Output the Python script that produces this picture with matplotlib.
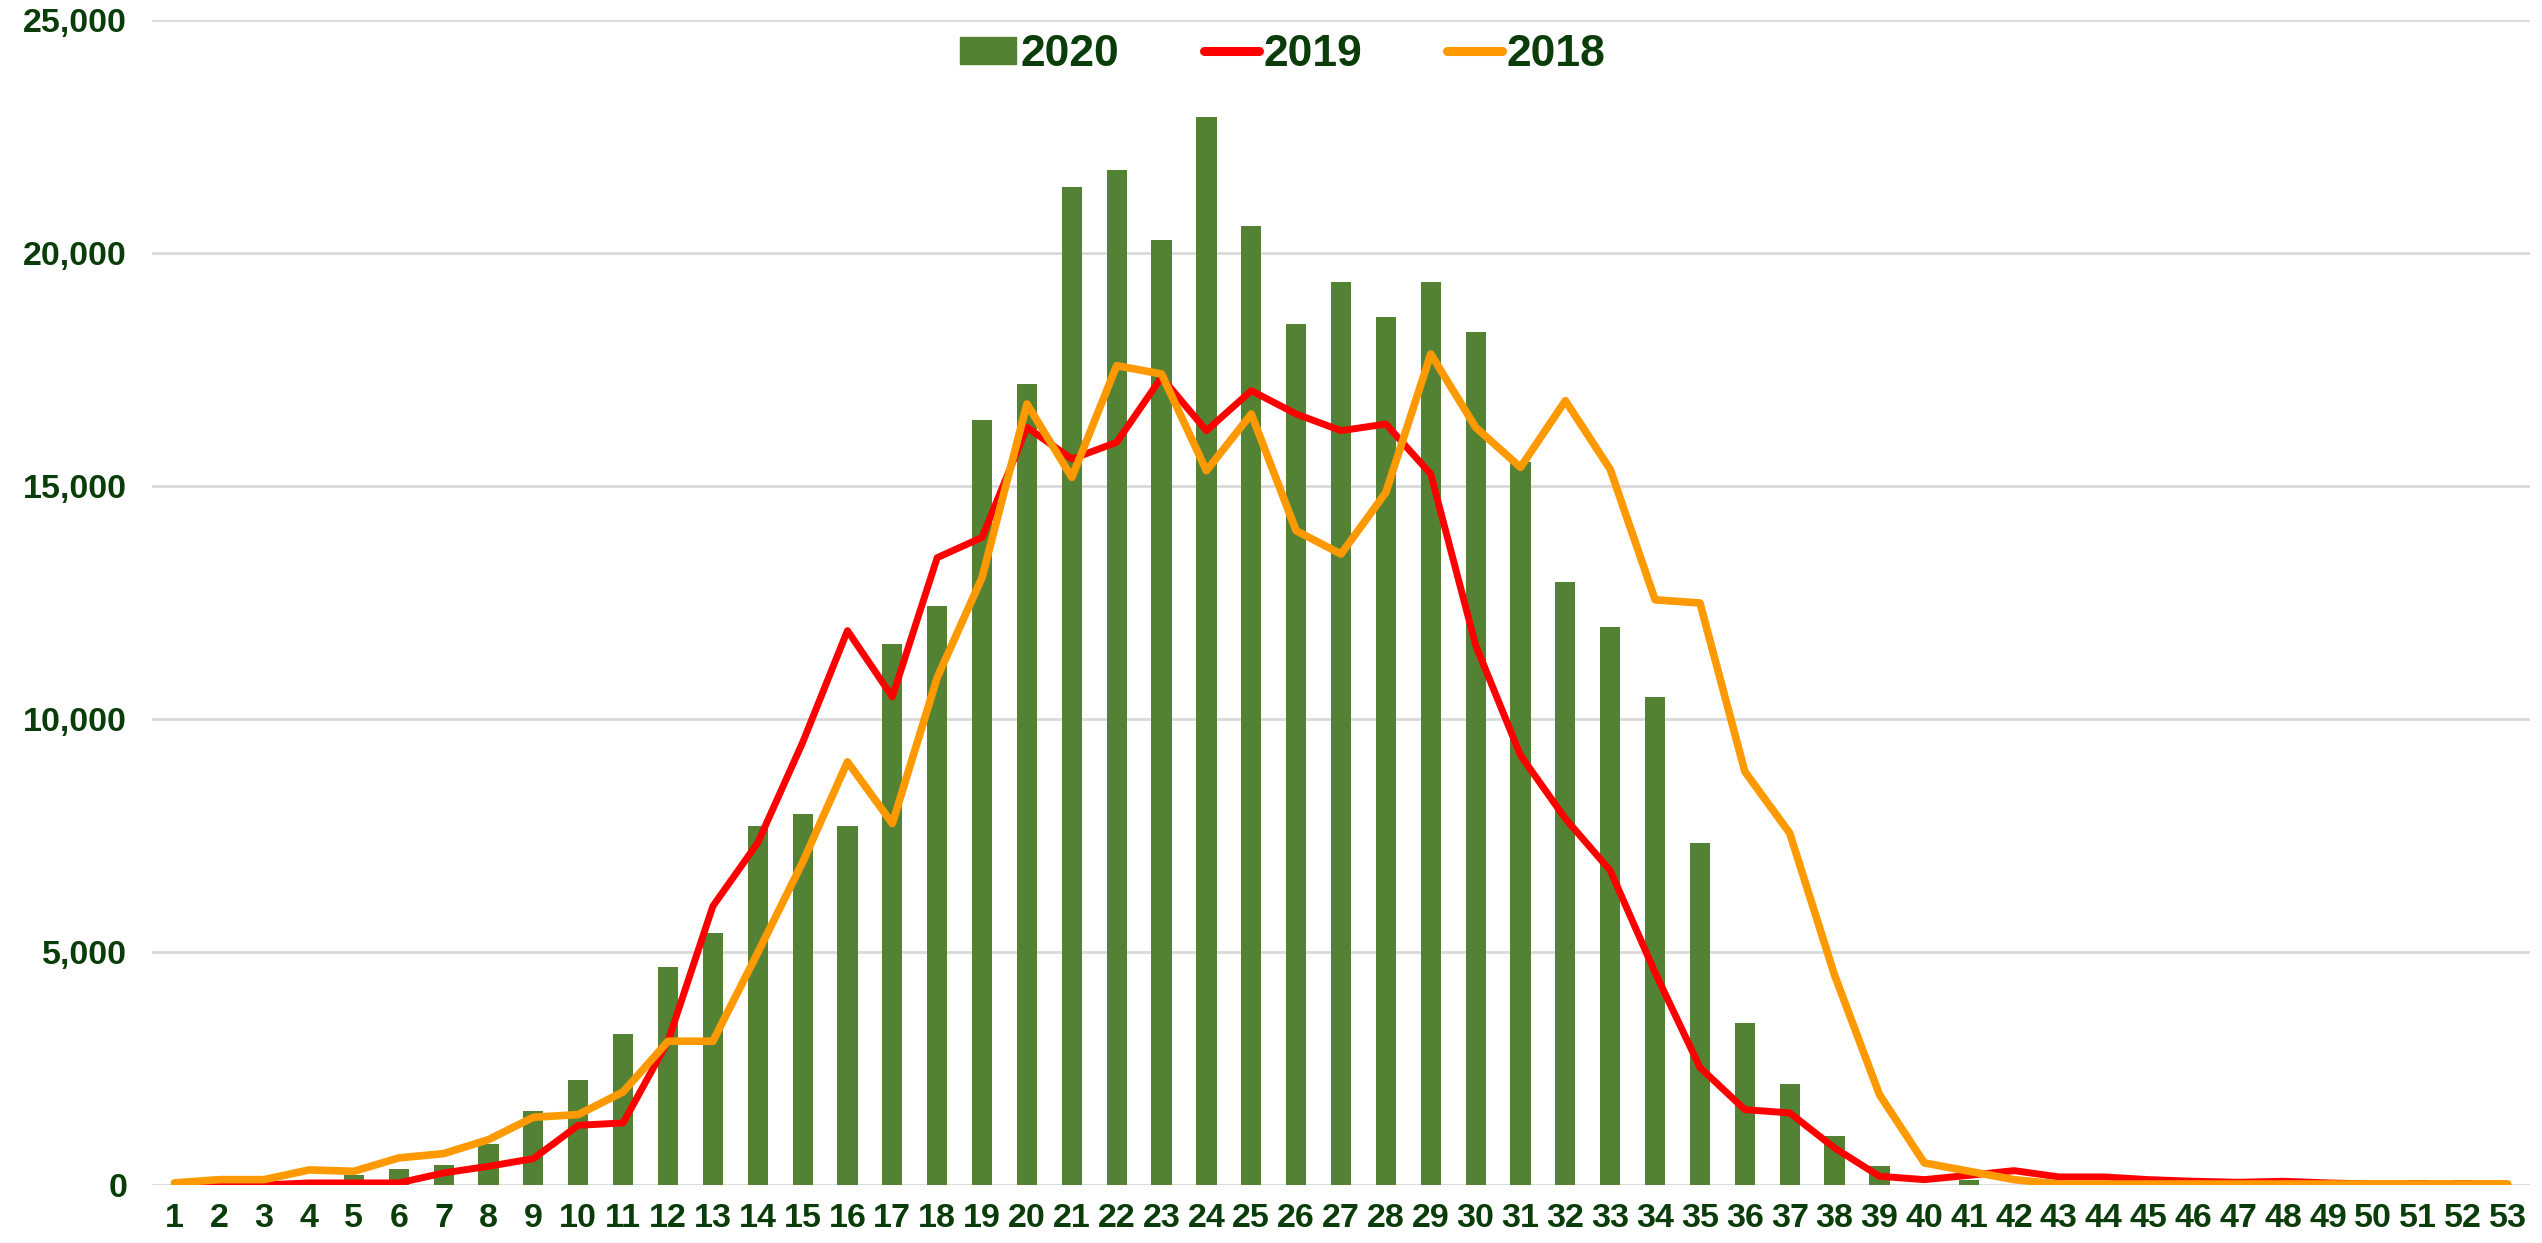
import matplotlib
matplotlib.use("Agg")
import matplotlib.pyplot as plt
from matplotlib.ticker import FuncFormatter, MultipleLocator
from matplotlib.lines import Line2D
from matplotlib.patches import Patch

weeks = list(range(1, 54))
y2020 = [0, 0, 0, 20, 207, 336, 429, 873, 1581, 2246,
         3240, 4671, 5401, 7710, 7960, 7690, 11610, 12410, 16416, 17182,
         21416, 21774, 20279, 22904, 20579, 18462, 19371, 18627, 19371, 18305,
         15500, 12925, 11960, 10460, 7330, 3470, 2165, 1050, 400, 0,
         114, 0, 0, 0, 0, 0, 0, 0, 60, 0,
         110, 110, 0]
y2019 = [0, 0, 0, 43, 43, 43, 258, 400, 565, 1280,
         1330, 3083, 5980, 7340, 9490, 11890, 10470, 13456, 13891, 16252,
         15572, 15930, 17325, 16180, 17039, 16538, 16180, 16323, 15250, 11580,
         9215, 7858, 6745, 4555, 2520, 1616, 1545, 794, 186, 114,
         207, 307, 172, 172, 114, 79, 57, 79, 43, 20,
         20, 20, 20]
y2018 = [43, 114, 114, 322, 293, 580, 672, 973, 1452, 1509,
         1996, 3083, 3083, 4980, 6920, 9076, 7754, 10884, 13033, 16752,
         15178, 17575, 17396, 15322, 16538, 14034, 13533, 14857, 17825, 16252,
         15393, 16824, 15350, 12552, 12483, 8867, 7546, 4500, 1938, 472,
         293, 114, 20, 20, 20, 20, 20, 20, 20, 20,
         20, 20, 20]
labels = ["2020", "2019", "2018"]

txt = "#0B3D0B"
green = "#548235"
red = "#FF0000"
orange = "#FF9900"
fam = ["Liberation Sans", "DejaVu Sans"]

fig = plt.figure(figsize=(25.42, 12.43), dpi=100)
ax = fig.add_axes([0.0598, 0.0467, 0.9355, 0.9376])

ax.bar(weeks, y2020, width=0.45, color=green, zorder=2)
ax.plot(weeks, y2019, color=red, lw=5.0, zorder=3, solid_joinstyle="round", solid_capstyle="round")
ax.plot(weeks, y2018, color=orange, lw=5.5, zorder=4, solid_joinstyle="round", solid_capstyle="round")

ax.set_xlim(0.5, 53.5)
ax.set_ylim(0, 25000)
ax.yaxis.set_major_locator(MultipleLocator(5000))
ax.yaxis.set_major_formatter(FuncFormatter(lambda v, p: f"{int(v):,}"))
ax.set_xticks(weeks)
ax.set_xticklabels([str(w) for w in weeks])
ax.grid(axis="y", color="#D9D9D9", lw=2, zorder=0)
ax.set_axisbelow(True)
for s in ax.spines.values():
    s.set_visible(False)
ax.tick_params(axis="both", length=0, labelcolor=txt)
ax.tick_params(axis="x", pad=13)
ax.tick_params(axis="y", pad=18)
for t in ax.get_xticklabels():
    t.set_fontfamily(fam)
    t.set_fontweight("bold")
    t.set_fontsize(24.5)
for t in ax.get_yticklabels():
    t.set_fontfamily(fam)
    t.set_fontweight("bold")
    t.set_fontsize(24.5)

handles = [Patch(color=green), Line2D([0], [0], color=red, lw=6.5, solid_capstyle="round"),
           Line2D([0], [0], color=orange, lw=6.5, solid_capstyle="round")]
leg = ax.legend(handles, labels, loc="center", bbox_to_anchor=(0.4756, 0.970), ncol=3,
                frameon=False, handlelength=1.25, handleheight=0.55, handletextpad=0.1,
                columnspacing=1.9, prop={"family": fam, "weight": "bold", "size": 32})
for t in leg.get_texts():
    t.set_color(txt)

fig.savefig("out.png", dpi=100, facecolor="white")
